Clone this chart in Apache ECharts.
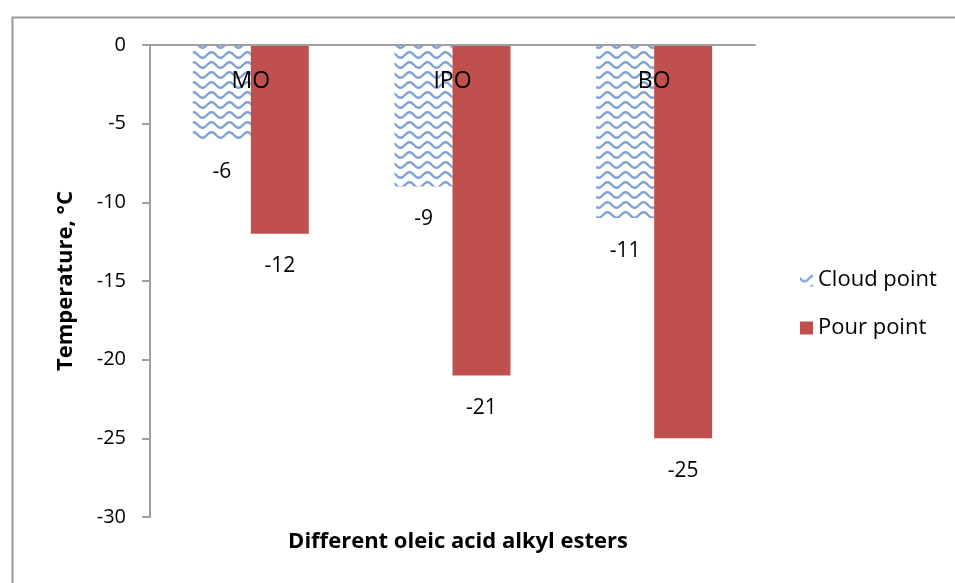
<!DOCTYPE html>
<html>
<head>
<meta charset="utf-8">
<script src="https://cdn.jsdelivr.net/npm/echarts@6/dist/echarts.min.js"></script>
<style>
  html, body { margin: 0; padding: 0; background: #fff; }
  #chart { width: 955px; height: 583px; }
</style>
</head>
<body>
<div id="chart"></div>
<script>
// Cold-flow properties of oleic acid alkyl esters
const categories = ['MO', 'IPO', 'BO'];
const cloudPoint = [-6, -9, -11];
const pourPoint = [-12, -21, -25];
const yMin = -30;
const yMax = 0;
const yStep = 5;

const FONT = '"Open Sans", Lato, sans-serif';

// Wavy-line tile used as the fill of the cloud point bars
function makeWaveTile() {
  const w = 18, h = 10;
  const c = document.createElement('canvas');
  c.width = w; c.height = h;
  const ctx = c.getContext('2d');
  ctx.fillStyle = '#ffffff';
  ctx.fillRect(0, 0, w, h);
  ctx.strokeStyle = 'rgba(92,140,205,0.8)';
  ctx.lineWidth = 2.4;
  ctx.beginPath();
  for (let x = -1; x <= w + 1; x += 0.5) {
    const y = h / 2 + 2.8 * Math.sin((x / w) * Math.PI * 2);
    if (x === -1) ctx.moveTo(x, y); else ctx.lineTo(x, y);
  }
  ctx.stroke();
  return c;
}
const waveFill = { image: makeWaveTile(), repeat: 'repeat' };

const chart = echarts.init(document.getElementById('chart'), null, { renderer: 'canvas' });

const labelStyle = {
  show: true,
  position: 'bottom',
  distance: 22,
  color: '#000',
  fontSize: 21,
  fontFamily: FONT
};

chart.setOption({
  animation: false,
  backgroundColor: '#fff',
  graphic: [{
    type: 'rect',
    left: 10, top: 15,
    shape: { width: 1000, height: 1000 },
    style: { fill: null, stroke: '#9a9a9a', lineWidth: 2 },
    z: -1
  }],
  title: {
    text: 'Different oleic acid alkyl esters',
    left: 453,
    top: 526,
    textAlign: 'center',
    textStyle: { fontFamily: FONT, fontWeight: 'bold', fontSize: 22, color: '#000' }
  },
  legend: {
    orient: 'vertical',
    left: 795,
    top: 264,
    itemGap: 26,
    itemWidth: 13,
    itemHeight: 13,
    icon: 'rect',
    textStyle: { fontFamily: FONT, fontSize: 22, color: '#000' },
    data: ['Cloud point', 'Pour point']
  },
  grid: { left: 150, right: 200, top: 45, bottom: 66, containLabel: false },
  xAxis: {
    type: 'category',
    data: categories,
    position: 'top',
    z: 10,
    axisLine: { show: true, onZero: false, lineStyle: { color: '#a0a0a0', width: 2 } },
    axisTick: { show: false },
    axisLabel: {
      inside: true,
      margin: 25,
      color: '#000',
      fontSize: 23,
      fontFamily: FONT
    },
    splitLine: { show: false }
  },
  yAxis: {
    type: 'value',
    min: yMin,
    max: yMax,
    interval: yStep,
    name: 'Temperature, °C',
    nameLocation: 'middle',
    nameRotate: 90,
    nameGap: 73,
    nameTextStyle: { fontFamily: FONT, fontWeight: 'bold', fontSize: 22, color: '#000' },
    axisLine: { show: true, lineStyle: { color: '#a0a0a0', width: 2 } },
    axisTick: { show: true, length: 8, lineStyle: { color: '#a0a0a0', width: 2 } },
    axisLabel: { margin: 24, color: '#000', fontSize: 20, fontFamily: FONT },
    splitLine: { show: false }
  },
  series: [
    {
      name: 'Cloud point',
      type: 'bar',
      data: cloudPoint,
      barGap: '0%',
      barCategoryGap: '42.5%',
      itemStyle: { color: waveFill },
      label: labelStyle
    },
    {
      name: 'Pour point',
      type: 'bar',
      data: pourPoint,
      barGap: '0%',
      barCategoryGap: '42.5%',
      itemStyle: { color: '#c0504d' },
      label: labelStyle
    }
  ]
});
</script>
</body>
</html>
